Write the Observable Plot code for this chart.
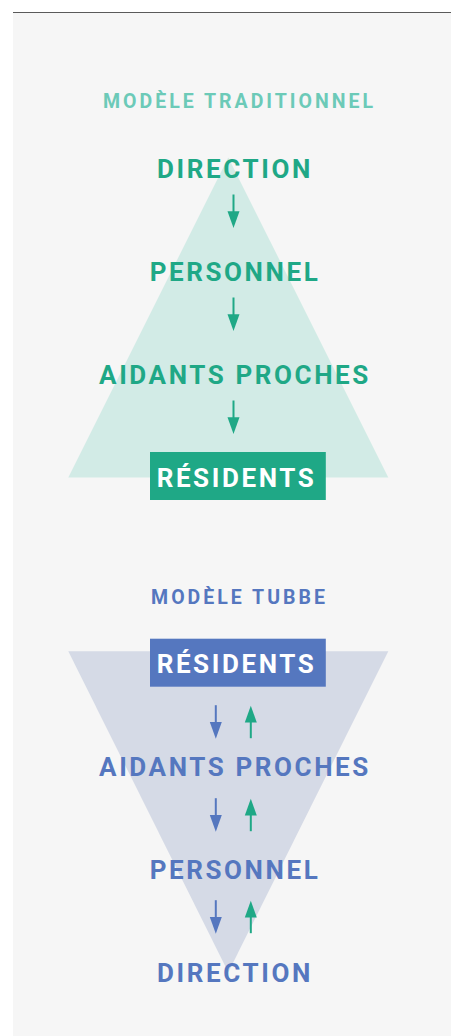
<!DOCTYPE html>
<html>
<head>
<meta charset="utf-8">
<script src="https://cdn.jsdelivr.net/npm/d3@7"></script>
<script src="https://cdn.jsdelivr.net/npm/@observablehq/plot@0.6"></script>
<style>
  html, body { margin: 0; padding: 0; background: #ffffff; }
  body { width: 451px; height: 1036px; position: relative; overflow: hidden; font-family: Roboto, "Noto Sans", sans-serif; }
  #bg { position: absolute; left: 13px; top: 12px; right: 0; bottom: 0; border-top: 1.5px solid #5a5a5a; background: #f6f6f6; }
  #chart { position: absolute; left: 0; top: 0; }
</style>
</head>
<body>
<div id="bg"></div>
<div id="chart"></div>
<script>
// ---- data ----
const titles = ["MODÈLE TRADITIONNEL", "MODÈLE TUBBE"];
const tradLevels = ["DIRECTION", "PERSONNEL", "AIDANTS PROCHES", "RÉSIDENTS"];
const tubbeLevels = ["RÉSIDENTS", "AIDANTS PROCHES", "PERSONNEL", "DIRECTION"];
const tradFlows = [["down"], ["down"], ["down"]];               // between consecutive levels
const tubbeFlows = [["down", "up"], ["down", "up"], ["down", "up"]];
const boxedLevel = "RÉSIDENTS";

// ---- layout & styles ----
const colors = {
  trad: {label: "#1fa886", title: "#6ccab8", tri: "#d2ebe6", box: "#1fa886"},
  tubbe: {label: "#5577bf", title: "#5577bf", tri: "#d5dae6", box: "#5577bf"}
};
const flowColor = {down: null, up: "#1fa886"};
const layout = {
  trad: {title: 107.5, base0: 177, step: 103, arrowMid: [34, 34, 34]},
  tubbe: {title: 603, base0: 672.7, step: 103, arrowMid: [49, 39, 38]}
};
const cx = 227.8, labelX = 234.5, titleX = 239, halfBase = 160;
const titleSize = 19.5, titleSpacing = 3, labelSize = 26, labelSpacing = 2.6;

const models = [
  {key: "trad", title: titles[0], levels: tradLevels, flows: tradFlows, inverted: false},
  {key: "tubbe", title: titles[1], levels: tubbeLevels, flows: tubbeFlows, inverted: true}
];

const labelRows = [], titleRows = [], triRows = [], boxRows = [], shaftRows = [], headRows = [];
for (const m of models) {
  const L = layout[m.key], C = colors[m.key];
  titleRows.push({text: m.title, x: titleX, y: L.title, color: C.title});
  const n = m.levels.length;
  const bFirst = L.base0, bLast = L.base0 + (n - 1) * L.step;
  m.levels.forEach((name, i) => {
    const y = L.base0 + i * L.step;
    const boxed = name === boxedLevel;
    labelRows.push({text: name, x: labelX + (boxed ? 1.5 : 0), y, color: boxed ? "#ffffff" : C.label});
    if (boxed) boxRows.push({x1: cx - 77.8, x2: cx + 98, y1: y - 34, y2: y + 14, color: C.box});
  });
  // background triangle
  const pts = m.inverted
    ? [[cx - halfBase, bFirst - 22], [cx + halfBase, bFirst - 22], [cx, bLast - 10]]
    : [[cx - halfBase, bLast - 9], [cx + halfBase, bLast - 9], [cx, bFirst - 20]];
  pts.forEach(([x, y]) => triRows.push({model: m.key, x, y, color: C.tri}));
  // arrows
  m.flows.forEach((dirs, i) => {
    const mid = L.base0 + i * L.step + L.arrowMid[i];
    dirs.forEach((dir, j) => {
      const x = dirs.length === 1 ? 233 : (j === 0 ? 215.3 : 250.3);
      const color = flowColor[dir] || C.label;
      const top = mid - 16.5, bot = mid + 16.5;
      if (dir === "down") {
        shaftRows.push({x, y1: top, y2: bot - 12, color});
        headRows.push({x, y: bot - 8.4, rotate: 0, color});
      } else {
        shaftRows.push({x, y1: top + 12, y2: bot, color});
        headRows.push({x, y: top + 8.4, rotate: 180, color});
      }
    });
  });
}

// elongated downward-pointing triangle symbol
const arrowHead = {
  draw(context, size) {
    const r = Math.sqrt(size / Math.PI);
    context.moveTo(-r, -1.4 * r);
    context.lineTo(r, -1.4 * r);
    context.lineTo(0, 1.4 * r);
    context.closePath();
  }
};

const chart = Plot.plot({
  width: 451,
  height: 1036,
  margin: 0,
  x: {domain: [0, 451], range: [0, 451], axis: null},
  y: {domain: [0, 1036], range: [0, 1036], axis: null},
  style: {background: "transparent", overflow: "visible"},
  marks: [
    Plot.line(triRows, {x: "x", y: "y", z: "model", fill: "color", stroke: "none", curve: "linear-closed"}),
    Plot.rect(boxRows, {x1: "x1", x2: "x2", y1: "y1", y2: "y2", fill: "color"}),
    Plot.ruleX(shaftRows, {x: "x", y1: "y1", y2: "y2", stroke: "color", strokeWidth: 2}),
    Plot.dot(headRows, {x: "x", y: "y", r: 6, rotate: "rotate", symbol: arrowHead, fill: "color", stroke: "none"}),
    Plot.text(titleRows, {x: "x", y: "y", text: "text", fill: "color", fontSize: titleSize, fontWeight: 700,
      fontFamily: "Roboto", textAnchor: "middle", lineAnchor: "bottom"}),
    Plot.text(labelRows, {x: "x", y: "y", text: "text", fill: "color", fontSize: labelSize, fontWeight: 700,
      fontFamily: "Roboto", textAnchor: "middle", lineAnchor: "bottom"})
  ]
});
// letter spacing: first text layer = titles, second = level labels
const textLayers = chart.querySelectorAll('g[aria-label="text"]');
if (textLayers[0]) textLayers[0].style.letterSpacing = titleSpacing + "px";
if (textLayers[1]) textLayers[1].style.letterSpacing = labelSpacing + "px";
document.getElementById("chart").appendChild(chart);
</script>
</body>
</html>
